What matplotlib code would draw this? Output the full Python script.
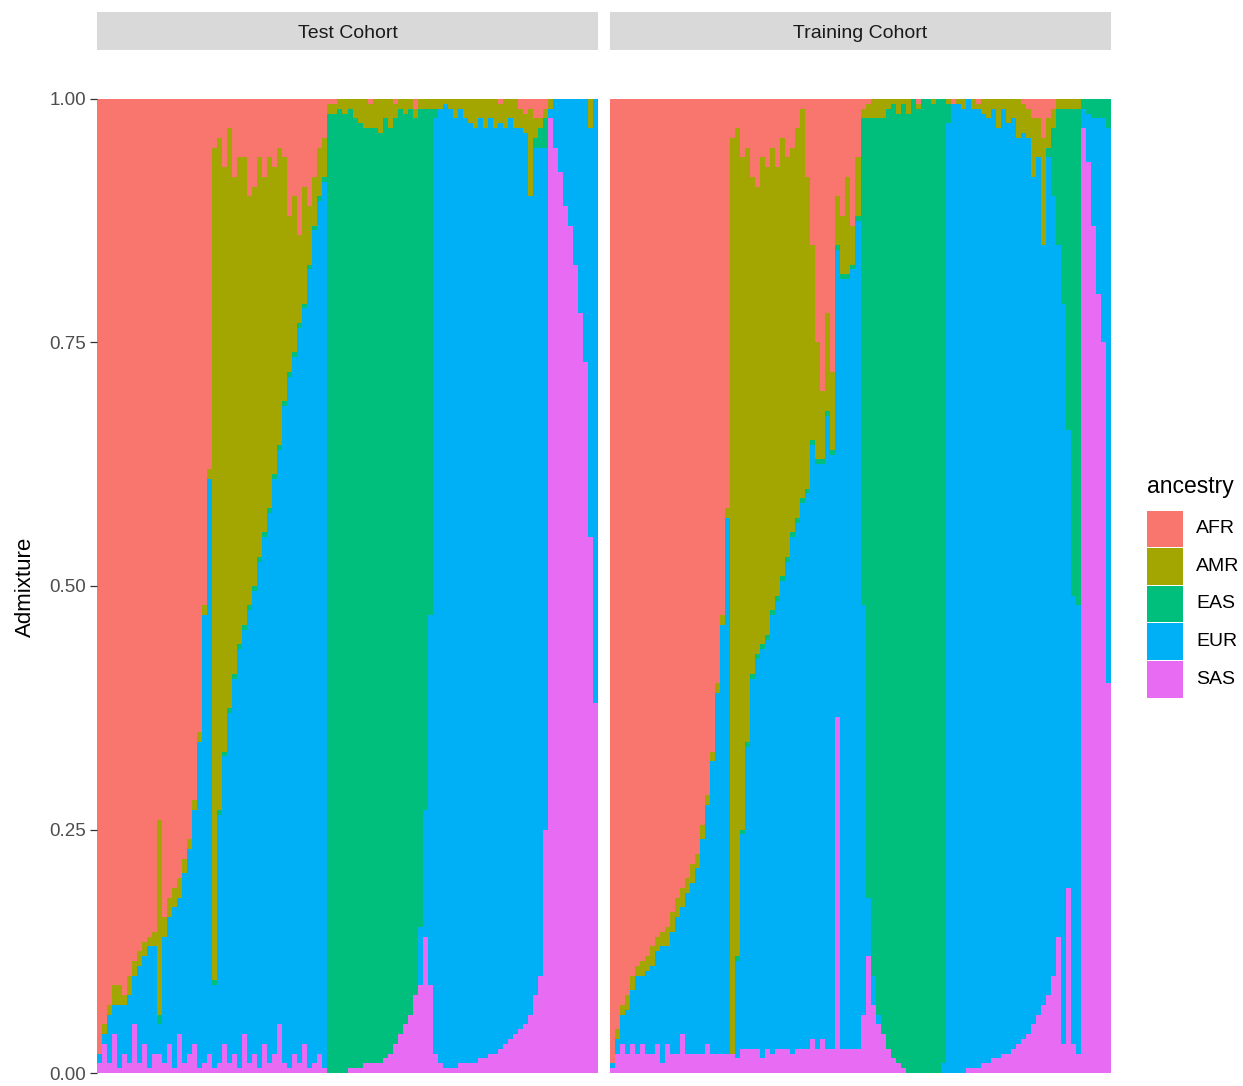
import matplotlib
matplotlib.use("Agg")
import matplotlib.pyplot as plt
from matplotlib.patches import Rectangle
import numpy as np

# ---------------- data (percent admixture per individual) ----------------
ancestries = ["AFR", "AMR", "EAS", "EUR", "SAS"]
ancestry_colors = ["#F8766D", "#A3A500", "#00BF7D", "#00B0F6", "#E76BF3"]
panel_titles = ["Test Cohort", "Training Cohort"]
y_ticks = [0.0, 0.25, 0.5, 0.75, 1.0]
y_tick_labels = ["0.00", "0.25", "0.50", "0.75", "1.00"]

test_AFR = [98, 95, 93, 91, 91, 92, 90, 88.5, 87.5, 86.5, 86, 85.5, 74, 84, 82, 81, 80, 78, 76, 72, 65, 52, 38,
            5, 4, 7, 3, 8, 6, 6, 10, 9, 6, 8, 6, 7, 5, 6, 12, 10, 14, 9, 11, 8, 5, 4,
            0.5, 0.5, 0, 0, 0, 0, 0, 0, 0.5, 0, 0, 0, 0, 0.5, 0, 0, 0, 1, 0, 0, 0,
            0, 0, 0, 0, 0, 0, 0, 0, 0, 0, 0, 0, 0, 0.5, 0, 0, 0, 1, 1.5, 1, 2, 2, 1,
            0, 0, 0, 0, 0, 0, 0, 0, 0, 0]
test_AMR = [0, 1, 1, 2, 2, 1, 2, 1.5, 1.5, 1.5, 1, 1.5, 20, 2, 2, 2, 2, 1.5, 1, 1, 1, 1, 1,
            85.5, 69, 60, 59.5, 51, 50, 48, 42, 41, 41, 36.5, 36, 31.5, 30.5, 25, 16, 16, 9, 12, 6, 5, 5, 4,
            1, 1, 1, 1.5, 1, 2, 2.5, 3, 2.5, 3, 3.5, 2, 3, 1.5, 1, 1.5, 1, 1, 1, 1, 1,
            1, 1, 0.5, 1, 2, 1, 2, 2.5, 3, 2, 3, 2, 3, 2, 3, 2, 3, 2, 2, 9, 2, 1, 1,
            1, 0, 0, 0, 0, 0, 0, 0, 3, 0]
test_EAS = [0, 0, 0, 0, 0, 0, 0, 0, 0, 0, 0, 0, 1, 0, 0, 0, 0, 0, 0, 0, 0, 0, 0,
            0.5, 0.5, 0.5, 0.5, 0.5, 0.5, 0.5, 0.5, 0.5, 0.5, 0.5, 0.5, 0.5, 0.5, 0.5, 0.5, 0.5, 0.5, 0.5, 0.5, 0.5, 0.5, 0.5,
            98.5, 98.5, 99, 98.5, 98.5, 97.5, 97, 96, 96, 96, 95.5, 96.5, 95, 95, 95, 93.5, 93, 90, 84, 72, 52,
            1, 0, 0, 0, 0, 0, 0, 0, 0, 0, 0, 0, 0, 0, 0, 0, 0, 0, 0, 0, 1, 2, 3,
            0, 0, 0, 0, 0, 0, 0, 0, 0, 0]
test_EUR = [1, 1, 5, 3, 6.5, 5, 7, 5, 10, 9, 12.5, 11, 3, 13, 13, 16.5, 14, 19.5, 21, 24, 33.5, 46, 59,
            8.5, 25.5, 29.5, 36, 38.5, 43, 41.5, 46.5, 47.5, 52, 52, 56.5, 59, 59, 67.5, 71, 71.5, 75.5, 75.5, 82, 85.5, 87.5, 91,
            0, 0, 0, 0, 0, 0, 0, 0, 0, 0, 0, 0, 0, 0, 0, 0, 0, 0, 6, 13, 38,
            96, 98, 99, 98.5, 97.5, 98, 97, 96.5, 96, 96.5, 95.5, 96, 95, 95, 94, 94.5, 93, 92.5, 91.5, 84, 87, 85, 70,
            1, 5, 7.5, 11, 13, 17, 22, 27, 42, 62]
test_SAS = [1, 3, 1, 4, 0.5, 2, 1, 5, 1, 3, 0.5, 2, 2, 1, 3, 0.5, 4, 1, 2, 3, 0.5, 1, 2,
            0.5, 1, 3, 1, 2, 0.5, 4, 1, 2, 0.5, 3, 1, 2, 5, 1, 0.5, 2, 1, 3, 0.5, 1, 2, 0.5,
            0, 0, 0, 0, 0.5, 0.5, 0.5, 1, 1, 1, 1, 1.5, 2, 3, 4, 5, 6, 8, 9, 14, 9,
            2, 1, 0.5, 0.5, 0.5, 1, 1, 1, 1, 1.5, 1.5, 2, 2, 2.5, 3, 3.5, 4, 4.5, 5, 6, 8, 10, 25,
            98, 95, 92.5, 89, 87, 83, 78, 73, 55, 38]

train_AFR = [99, 95.5, 93, 92, 90, 89, 88.5, 88, 87, 86, 85.5, 85, 83.5, 82, 81, 80, 78.5, 77.5, 74.5, 71.5, 67, 60, 53, 42,
             4, 3, 6, 5, 8, 9, 6, 7, 5, 7, 4, 6, 5, 3, 1, 8, 15, 25, 30, 22, 28, 10, 12, 8, 13, 6,
             1, 0.5, 0, 0, 0, 0, 0, 0, 0, 0, 0, 0.5, 0, 0, 0, 0, 0,
             0, 0.5, 0, 0, 0, 0, 0.5, 0, 0, 0, 0, 0, 0, 0, 0, 0.5, 1, 2, 2, 4, 2, 1, 0, 0, 0, 0, 0, 0, 0, 0, 0, 0, 0]
train_AMR = [0, 1, 1, 1.5, 1.5, 1, 1.5, 1.5, 2, 1.5, 1.5, 2, 2, 2, 2, 1.5, 2, 1.5, 1.5, 1, 1, 1, 1, 1,
             94, 85, 69, 61, 51, 48, 50, 48, 47.5, 44, 45, 41, 39.5, 40, 40, 32, 20, 12, 7, 10, 8, 5, 6, 10, 4, 6,
             1, 1.5, 2, 2, 2, 1, 0.5, 1.5, 0.5, 1.5, 0, 0.5, 0, 0, 0.5, 0, 0,
             0.5, 0, 0.5, 1, 0, 1, 0.5, 1.5, 2, 1, 3, 1, 2.5, 2, 4, 3, 3, 6, 4, 11, 3, 2, 1, 1, 1, 1, 1, 0, 0, 0, 0, 0, 0]
train_EAS = [0, 0, 0, 0, 0, 0, 0, 0, 0, 0, 0, 0, 0, 0, 0, 0, 0, 0, 0, 0, 0, 0, 0, 0,
             0, 0.5, 0.5, 0.5, 0.5, 0.5, 0.5, 0.5, 0.5, 0.5, 0.5, 0.5, 0.5, 0.5, 0.5, 0.5, 0.5, 0.5, 0.5, 0.5, 0.5, 0.5, 0.5, 0.5, 0.5, 0.5,
             50, 80, 88, 92, 94, 96.5, 98, 97.5, 99, 98.5, 100, 99, 100, 100, 99.5, 100, 99,
             2, 0, 0, 0, 0, 0, 0, 0, 0, 0, 0, 0, 0, 0, 0, 0, 0, 0, 0, 0, 1, 7, 14, 20, 33, 50, 51, 1, 1.5, 2, 2, 2, 3]
train_EUR = [0.5, 1.5, 3, 4.5, 5.5, 8, 7, 8.5, 9, 9.5, 12, 10, 12.5, 14, 13, 16.5, 17.5, 19, 22, 24.5, 30, 37, 44, 55,
             0, 10, 22, 31, 38, 40, 42, 42, 45, 46, 48, 50, 53, 54, 56, 57, 61, 60, 59, 65, 61, 48, 79, 79, 80, 85,
             42, 6, 3, 1, 0, 0, 0, 0, 0, 0, 0, 0, 0, 0, 0, 0, 1,
             97.5, 99.5, 99.5, 99, 99.5, 98.5, 98.5, 97.5, 97, 97.5, 95.5, 97, 95.5, 95.5, 93, 93, 92, 87, 88, 78, 86, 80, 71, 76, 47, 46, 46,
             2, 5, 11, 18, 23, 57]
train_SAS = [0.5, 2, 3, 2, 3, 2, 3, 2, 2, 3, 1, 3, 2, 2, 4, 2, 2, 2, 2, 3, 2, 2, 2, 2,
             2, 1.5, 2.5, 2.5, 2.5, 2.5, 1.5, 2.5, 2, 2.5, 2.5, 2.5, 2, 2.5, 2.5, 2.5, 3.5, 2.5, 3.5, 2.5, 2.5, 36.5, 2.5, 2.5, 2.5, 2.5,
             6, 12, 7, 5, 4, 2.5, 1.5, 1, 0.5, 0, 0, 0, 0, 0, 0, 0, 0,
             0, 0, 0, 0, 0.5, 0.5, 0.5, 1, 1, 1.5, 1.5, 2, 2, 2.5, 3, 3.5, 4, 5, 6, 7, 8, 10, 14, 3, 19, 3, 2,
             97, 93.5, 87, 80, 75, 40]

test_data = {"AFR": test_AFR, "AMR": test_AMR, "EAS": test_EAS, "EUR": test_EUR, "SAS": test_SAS}
train_data = {"AFR": train_AFR, "AMR": train_AMR, "EAS": train_EAS, "EUR": train_EUR, "SAS": train_SAS}
panel_data = [test_data, train_data]

# ---------------- layout ----------------
W, H = 1243, 1086
fig = plt.figure(figsize=(W / 100, H / 100), dpi=100)
fig.patch.set_facecolor("white")
FONT = "Liberation Sans"


def rect(x0, x1, y0, y1):
    return [x0 / W, 1 - y1 / H, (x1 - x0) / W, (y1 - y0) / H]


panel_px = [(97, 598), (610, 1111)]
top_px, bot_px = 99, 1073

stack_order = ["SAS", "EUR", "EAS", "AMR", "AFR"]  # bottom -> top
col = dict(zip(ancestries, ancestry_colors))

for p, (x0, x1) in enumerate(panel_px):
    ax = fig.add_axes(rect(x0, x1, top_px, bot_px))
    d = panel_data[p]
    n = len(d["AFR"])
    total = np.zeros(n)
    for a in ancestries:
        total += np.asarray(d[a], dtype=float)
    xs = np.arange(n)
    bottom = np.zeros(n)
    for a in stack_order:
        v = np.asarray(d[a], dtype=float) / total
        ax.bar(xs, v, bottom=bottom, width=1.0, color=col[a], linewidth=0,
               antialiased=False, align="center")
        bottom += v
    ax.set_xlim(-0.5, n - 0.5)
    ax.set_ylim(0, 1)
    ax.set_xticks([])
    for s in ax.spines.values():
        s.set_visible(False)
    ax.set_yticks(y_ticks)
    if p == 0:
        ax.set_yticklabels(y_tick_labels, fontsize=13.5, color="#4D4D4D", family=FONT)
        ax.tick_params(axis="y", length=5, width=0.9, color="#333333", pad=3)
    else:
        ax.tick_params(axis="y", length=0, labelleft=False)

# overlay axes for strips, legend and titles (pixel coordinates)
ov = fig.add_axes([0, 0, 1, 1], zorder=-1)
ov.set_xlim(0, W)
ov.set_ylim(H, 0)
ov.axis("off")

for (x0, x1), t in zip(panel_px, panel_titles):
    ov.add_patch(Rectangle((x0, 12), x1 - x0, 38, facecolor="#D9D9D9", edgecolor="none"))
    ov.text((x0 + x1) / 2, 33, t, ha="center", va="center", fontsize=14,
            color="#1A1A1A", family=FONT)

ov2 = fig.add_axes([0, 0, 1, 1], zorder=5)
ov2.set_xlim(0, W)
ov2.set_ylim(H, 0)
ov2.axis("off")
ov2.patch.set_alpha(0)

ov2.text(25, 587, "Admixture", rotation=90, ha="center", va="center", fontsize=16,
         color="black", family=FONT)

# legend
ov2.text(1147, 487, "ancestry", ha="left", va="center", fontsize=16.5, color="black", family=FONT)
key_h = 37.6
for k, a in enumerate(ancestries):
    y0 = 510 + k * key_h
    ov2.add_patch(Rectangle((1147, y0 + 0.5), 36, key_h - 1, facecolor=col[a], edgecolor="none"))
    ov2.text(1196, y0 + key_h / 2, a, ha="left", va="center", fontsize=14,
             color="black", family=FONT)

fig.savefig("out.png", dpi=100, facecolor="white")
